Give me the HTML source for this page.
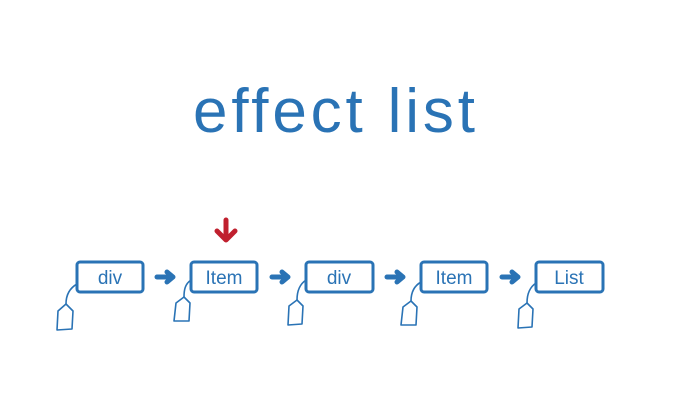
<!DOCTYPE html>
<html><head><meta charset="utf-8"><style>
html,body{margin:0;padding:0;background:#fff;}
svg{display:block}
</style></head><body>
<svg width="678" height="402" viewBox="0 0 678 402" xmlns="http://www.w3.org/2000/svg">
<rect width="678" height="402" fill="#fff"/>
<text x="193" y="132" font-family="Liberation Sans, sans-serif" font-size="62" fill="#2a73b5" textLength="282" lengthAdjust="spacing">effect list</text>
<g fill="none" stroke="#c0202e" stroke-width="5" stroke-linecap="round" stroke-linejoin="round">
<line x1="226" y1="220" x2="226" y2="238"/>
<polyline points="217,231 226,240 235,231"/>
</g>
<g fill="none" stroke="#2a73b5" stroke-width="3" stroke-linejoin="round" stroke-linecap="round">
<rect x="77" y="262" width="66" height="30" rx="3"/>
<rect x="191" y="262" width="66" height="30" rx="3"/>
<rect x="306" y="262" width="67" height="30" rx="3"/>
<rect x="421" y="262" width="66" height="30" rx="3"/>
<rect x="536" y="262" width="67" height="30" rx="3"/>
</g>
<g fill="none" stroke="#2a73b5" stroke-width="5" stroke-linecap="round" stroke-linejoin="round">
<line x1="157" y1="277" x2="171" y2="277"/><polyline points="167,272 173,277 167,282"/>
<line x1="272" y1="277" x2="286" y2="277"/><polyline points="282,272 288,277 282,282"/>
<line x1="387" y1="277" x2="401" y2="277"/><polyline points="397,272 403,277 397,282"/>
<line x1="502" y1="277" x2="516" y2="277"/><polyline points="512,272 518,277 512,282"/>
</g>
<g fill="none" stroke="#2a73b5" stroke-width="1.6" stroke-linejoin="round">
<path d="M77,284 C70,288 66,295 66,304"/>
<path d="M66,304 L73,311 L72,329 L57,330 L58,311 Z"/>
<path d="M191,280 C185,284 184,290 184,297"/>
<path d="M184,297 L190,303 L189,321 L174,321 L176,303 Z"/>
<path d="M306,280 C300,284 297,291 297,300"/>
<path d="M297,300 L303,306 L302,324 L288,325 L289,306 Z"/>
<path d="M421,282 C414,286 411,293 411,301"/>
<path d="M411,301 L417,307 L416,325 L401,325 L403,307 Z"/>
<path d="M536,283 C530,287 527,294 527,303"/>
<path d="M527,303 L533,309 L532,327 L518,328 L519,309 Z"/>
</g>
<g font-family="Liberation Sans, sans-serif" font-size="19" fill="#2a73b5" text-anchor="middle">
<text x="110" y="284">div</text>
<text x="224" y="284">Item</text>
<text x="339" y="284">div</text>
<text x="454" y="284">Item</text>
<text x="569" y="284">List</text>
</g>
</svg>
</body></html>
